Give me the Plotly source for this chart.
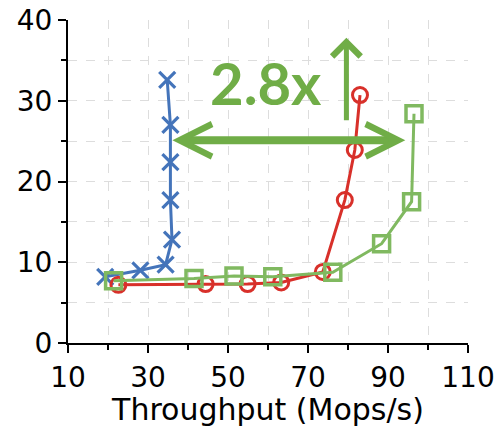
import plotly.graph_objects as go

# Throughput (Mops/s) vs. latency for the three systems
blue_x = [19.3, 28.1, 34.4, 36.0, 35.6, 35.6, 35.6, 34.8]
blue_y = [8.2, 9.0, 9.7, 12.8, 17.7, 22.4, 27.0, 32.6]

red_x = [22.6, 44.4, 54.9, 63.3, 73.7, 79.2, 81.7, 83.0]
red_y = [7.2, 7.3, 7.3, 7.5, 8.8, 17.7, 23.9, 30.7]

green_x = [21.4, 41.5, 51.5, 61.2, 76.2, 88.4, 95.9, 96.5]
green_y = [7.7, 8.0, 8.3, 8.2, 8.75, 12.3, 17.5, 28.4]

x_ticks = [10, 30, 50, 70, 90, 110]
y_ticks = [0, 10, 20, 30, 40]

BLUE = "#4474BA"
RED = "#D8302A"
GREEN = "#80B960"
ARROW = "#70AD47"

fig = go.Figure()
fig.add_trace(go.Scatter(
    x=blue_x, y=blue_y, mode="lines+markers",
    line=dict(color=BLUE, width=3),
    marker=dict(symbol="x-thin-open", size=16, line=dict(color=BLUE, width=3.2)),
))
fig.add_trace(go.Scatter(
    x=red_x, y=red_y, mode="lines+markers",
    line=dict(color=RED, width=3),
    marker=dict(symbol="circle-open", size=15, line=dict(color=RED, width=3)),
))
fig.add_trace(go.Scatter(
    x=green_x, y=green_y, mode="lines+markers",
    line=dict(color=GREEN, width=3),
    marker=dict(symbol="square-open", size=16, line=dict(color=GREEN, width=3.5)),
))

# "2.8x" callout: horizontal double arrow, vertical arrow and label
fig.add_annotation(x=36.1, y=25.1, ax=94.7, ay=25.1, xref="x", yref="y",
                   axref="x", ayref="y", text="", showarrow=True,
                   arrowhead=5, arrowside="end+start", arrowwidth=8,
                   arrowsize=0.8, arrowcolor=ARROW)
fig.add_annotation(x=79.6, y=37.8, ax=79.6, ay=27.4, xref="x", yref="y",
                   axref="x", ayref="y", text="", showarrow=True,
                   arrowhead=4, arrowwidth=5, arrowsize=1.1, arrowcolor=ARROW)
fig.add_annotation(x=59.6, y=32.2, xref="x", yref="y", text="<b>2.8x</b>",
                   showarrow=False,
                   font=dict(family="Lato", size=58, color=ARROW))

axis_common = dict(
    showline=True, linecolor="black", linewidth=2,
    ticks="outside", ticklen=8, tickwidth=2, tickcolor="black",
    showgrid=True, gridcolor="#DDDDDD", griddash="dash", gridwidth=1,
    zeroline=False, mirror=False, automargin=False,
    tickfont=dict(family="DejaVu Sans", size=28, color="black"),
)

fig.update_xaxes(
    range=[10, 110], tickvals=x_ticks, ticktext=[str(v) for v in x_ticks],
    minor=dict(dtick=10, tick0=10, ticks="outside", ticklen=5, tickwidth=1.5,
               tickcolor="black", showgrid=True, gridcolor="#DDDDDD",
               griddash="dash"),
    title=dict(text="Throughput (Mops/s)", standoff=4,
               font=dict(family="DejaVu Sans", size=30, color="black")),
    **axis_common,
)
fig.update_yaxes(
    range=[0, 40], tickvals=y_ticks, ticktext=[str(v) for v in y_ticks],
    minor=dict(dtick=5, tick0=0, ticks="outside", ticklen=5, tickwidth=1.5,
               tickcolor="black", showgrid=True, gridcolor="#DDDDDD",
               griddash="dash"),
    **axis_common,
)

fig.update_layout(
    width=498, height=427,
    margin=dict(l=68, r=30, t=20, b=84),
    plot_bgcolor="white", paper_bgcolor="white",
    showlegend=False,
)

fig.write_html("out.html")
